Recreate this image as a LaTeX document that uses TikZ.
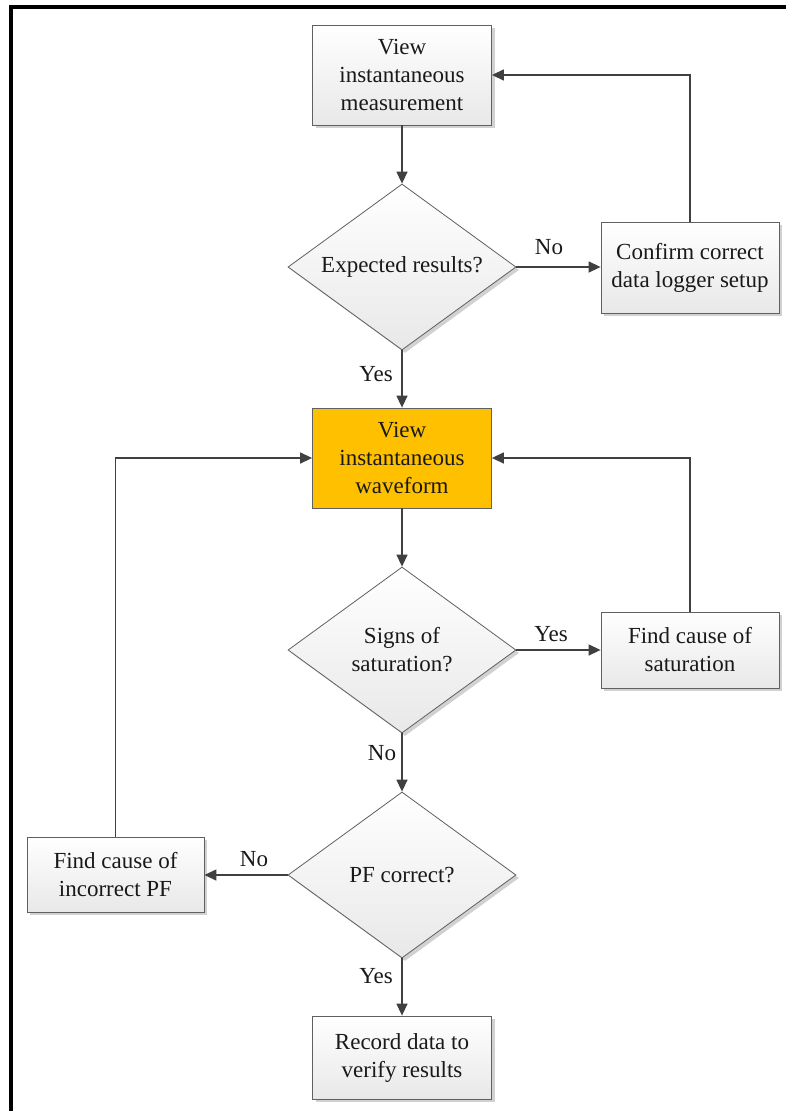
\documentclass[tikz,border=0pt]{standalone}
\usepackage{fontspec}
\setmainfont{LiberationSerif-Regular.ttf}
\usetikzlibrary{shapes.geometric,arrows.meta,shadows}
\definecolor{linegray}{HTML}{404040}
\definecolor{edgegray}{HTML}{606060}
\definecolor{orangefill}{HTML}{FFC000}
\newcommand{\diagfont}{\rmfamily\fontsize{23}{28}\selectfont}
\tikzset{
  procbox/.style={draw=edgegray, line width=0.8pt, top color=white, bottom color=black!9,
    drop shadow={shadow xshift=3pt, shadow yshift=-3pt, fill=black!18, opacity=1},
    align=center, inner sep=0pt, text=black!90, font=\diagfont},
  hibox/.style={draw=edgegray, line width=0.8pt, fill=orangefill,
    align=center, inner sep=0pt, text=black!90, font=\diagfont},
  decbox/.style={diamond, draw=edgegray, line width=0.8pt, top color=white, bottom color=black!9,
    drop shadow={shadow xshift=3pt, shadow yshift=-3pt, fill=black!18, opacity=1},
    align=center, inner sep=0pt, aspect=1.37, minimum width=228pt, minimum height=166pt,
    text=black!90, font=\diagfont},
  conn/.style={draw=linegray, line width=1.4pt, -{Triangle[length=12pt,width=11pt]}, color=linegray},
  lbl/.style={text=black!90, font=\diagfont, inner sep=0pt}
}
\begin{document}
\begin{tikzpicture}[x=1pt,y=-1pt]
\useasboundingbox (0,0) rectangle (786,1111);
\fill[white] (0,0) rectangle (786,1111);
\draw[line width=4pt] (9,7) -- (786,7);
\draw[line width=4pt] (11,5) -- (11,1111);

\node[procbox, minimum width=179pt, minimum height=100pt] (meas) at (402,75) {View\\instantaneous\\measurement};
\node[decbox] (exp) at (402,267) {Expected results?};
\node[procbox, minimum width=178pt, minimum height=91pt] (conf) at (690,267.5) {Confirm correct\\data logger setup};
\node[hibox, minimum width=179pt, minimum height=100pt] (wave) at (402,458) {View\\instantaneous\\waveform};
\node[decbox] (sat) at (402,650) {Signs of\\saturation?};
\node[procbox, minimum width=178pt, minimum height=76pt] (fsat) at (690,650) {Find cause of\\saturation};
\node[decbox] (pf) at (402,875) {PF correct?};
\node[procbox, minimum width=177pt, minimum height=75pt] (fpf) at (115.5,874.5) {Find cause of\\incorrect PF};
\node[procbox, minimum width=179pt, minimum height=83pt] (rec) at (402,1057.5) {Record data to\\verify results};

\coordinate (c1) at (conf.north |- meas.east);
\coordinate (c2) at (fsat.north |- wave.east);
\coordinate (c3) at (fpf.north |- wave.west);

\draw[conn] (meas.south) -- (exp.north);
\draw[conn] (exp.east) -- (exp.east -| conf.west);
\draw[conn] (conf.north) -- (c1) -- (meas.east);
\draw[conn] (exp.south) -- (wave.north);
\draw[conn] (wave.south) -- (sat.north);
\draw[conn] (sat.east) -- (sat.east -| fsat.west);
\draw[conn] (fsat.north) -- (c2) -- (wave.east);
\draw[conn] (sat.south) -- (pf.north);
\draw[conn] (pf.west) -- (pf.west -| fpf.east);
\draw[conn] (fpf.north) -- (c3) -- (wave.west);
\draw[conn] (pf.south) -- (rec.north);

\node[lbl] (l1) at (549,247) {No};
\node[lbl] (l2) at (376,374) {Yes};
\node[lbl] (l3) at (551,634) {Yes};
\node[lbl] (l4) at (382,753) {No};
\node[lbl] (l5) at (254,859) {No};
\node[lbl] (l6) at (376,976) {Yes};
\end{tikzpicture}
\end{document}
